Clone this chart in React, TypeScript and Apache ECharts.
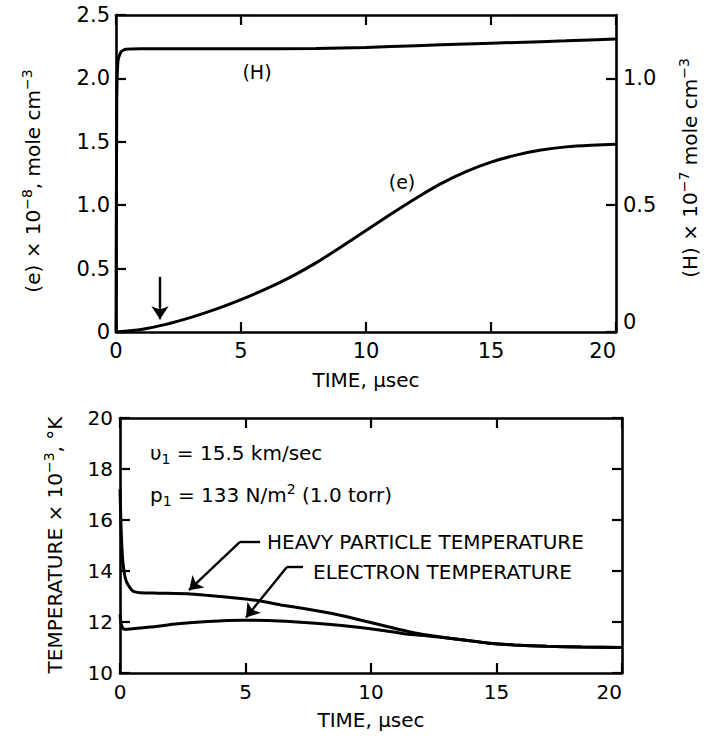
import React, { useEffect, useRef } from "react";
import * as echarts from "echarts";

// ---- data ----
const eTime = [0, 1, 2, 3, 4, 5, 6, 7, 8, 9, 10, 11, 12, 13, 14, 15, 16, 17, 18, 19, 20];
const eValue = [0, 0.02, 0.06, 0.115, 0.18, 0.255, 0.34, 0.435, 0.545, 0.67, 0.8, 0.93, 1.055, 1.17, 1.265, 1.34, 1.395, 1.435, 1.46, 1.473, 1.48];

const hTime = [0, 0.03, 0.08, 0.2, 0.4, 1, 5, 8, 10, 12, 14, 16, 18, 20];
const hValue = [0, 0.9, 1.07, 1.105, 1.115, 1.117, 1.117, 1.118, 1.122, 1.129, 1.136, 1.142, 1.148, 1.155];

const heavyTime = [0, 0.05, 0.12, 0.25, 0.5, 0.8, 1.5, 2.8, 4, 5, 5.6, 6.4, 7.5, 8.4, 9.4, 10.4, 11.7, 12.7, 13.7, 14.7, 15.7, 17, 18.4, 20];
const heavyValue = [17.2, 15.5, 14.3, 13.6, 13.22, 13.15, 13.13, 13.1, 13.0, 12.9, 12.82, 12.67, 12.5, 12.34, 12.12, 11.88, 11.58, 11.42, 11.29, 11.17, 11.1, 11.05, 11.02, 11.0];

const elecTime = [0, 0.05, 0.15, 0.3, 1.2, 2.3, 3.5, 4.9, 5.9, 6.9, 8.4, 9.4, 10.4, 11.4, 12.2, 12.7, 13.7, 14.7, 15.7, 17, 18.4, 20];
const elecValue = [12.3, 11.9, 11.72, 11.72, 11.8, 11.93, 12.02, 12.07, 12.06, 12.01, 11.9, 11.8, 11.68, 11.53, 11.46, 11.41, 11.29, 11.17, 11.1, 11.05, 11.02, 11.0];

const timeMin = 0;
const timeMax = 20;
const timeStep = 5;
const eAxis = { min: 0, max: 2.5, step: 0.5 };
const hAxis = { min: 0, max: 1.25, step: 0.5 };
const tAxis = { min: 10, max: 20, step: 2 };

const FONT = "DejaVu Sans";
const BLACK = "#000";

const zip = (xs: number[], ys: number[]) => xs.map((x, i) => [x, ys[i]]);

export default function App() {
  const ref = useRef<HTMLDivElement>(null);

  useEffect(() => {
    const chart = echarts.init(ref.current!, null, { renderer: "svg" });

    const axisLine = { show: true, onZero: false, lineStyle: { color: BLACK, width: 2.6 } };
    const axisTick = { show: true, inside: true, length: 10, lineStyle: { color: BLACK, width: 2.2 } };
    const noSplit = { show: false };

    const xBase = (grid: number, pos: "top" | "bottom", labels: boolean, fontSize: number, margin: number, nameGap: number) => ({
      type: "value",
      gridIndex: grid,
      position: pos,
      min: timeMin,
      max: timeMax,
      interval: timeStep,
      axisLine,
      axisTick,
      splitLine: noSplit,
      axisLabel: { show: labels, color: BLACK, fontFamily: FONT, fontSize, margin, alignMaxLabel: "right" },
      name: labels ? "TIME, \u03bcsec" : "",
      nameLocation: "middle",
      nameGap,
      nameTextStyle: { color: BLACK, fontFamily: FONT, fontSize: 20 },
    });

    const fmt1 = (v: number) => (v === 0 ? "0" : v.toFixed(1));

    const sup = { fontSize: 14, fontFamily: FONT, fill: BLACK, padding: [0, 0, 13, 0] };
    const sub = { fontSize: 14, fontFamily: FONT, fill: BLACK, padding: [12, 0, 0, 0] };
    const base = { fontSize: 20, fontFamily: FONT, fill: BLACK };

    const lineStyle = { color: BLACK, width: 3 };
    const SMOOTH = 0.2;

    const leader = (data: any[]) => ({
      silent: true,
      animation: false,
      symbol: ["none", "arrow"],
      symbolSize: 13,
      label: { show: false },
      emphasis: { disabled: true },
      lineStyle: { color: BLACK, width: 2.4, type: "solid" },
      data,
    });

    const option: any = {
      animation: false,
      backgroundColor: "#fff",
      grid: [
        { left: 116, top: 15, width: 500, height: 317 },
        { left: 120, top: 418, width: 502, height: 255 },
      ],
      xAxis: [
        xBase(0, "bottom", true, 21, 8, 38),
        xBase(0, "top", false, 21, 8, 0),
        xBase(1, "bottom", true, 20, 9, 37),
        xBase(1, "top", false, 20, 9, 0),
      ],
      yAxis: [
        {
          type: "value", gridIndex: 0, position: "left",
          min: eAxis.min, max: eAxis.max, interval: eAxis.step,
          axisLine, axisTick, splitLine: noSplit,
          axisLabel: { color: BLACK, fontFamily: FONT, fontSize: 21, margin: 6, formatter: fmt1 },
        },
        {
          type: "value", gridIndex: 0, position: "right",
          min: hAxis.min, max: hAxis.max, interval: hAxis.step,
          axisLine, axisTick, splitLine: noSplit,
          axisLabel: {
            color: BLACK, fontFamily: FONT, fontSize: 21, margin: 7, formatter: fmt1,
            showMaxLabel: false, verticalAlignMinLabel: "bottom",
          },
        },
        {
          type: "value", gridIndex: 1, position: "left",
          min: tAxis.min, max: tAxis.max, interval: tAxis.step,
          axisLine, axisTick, splitLine: noSplit,
          axisLabel: { color: BLACK, fontFamily: FONT, fontSize: 20, margin: 7 },
        },
        {
          type: "value", gridIndex: 1, position: "right",
          min: tAxis.min, max: tAxis.max, interval: tAxis.step,
          axisLine, axisTick, splitLine: noSplit,
          axisLabel: { show: false },
        },
      ],
      series: [
        {
          name: "(e)", type: "line", xAxisIndex: 0, yAxisIndex: 0,
          data: zip(eTime, eValue), showSymbol: false, symbol: "none",
          smooth: SMOOTH, lineStyle,
          markLine: leader([[{ coord: [1.76, 0.435] }, { coord: [1.76, 0.1] }]]),
        },
        {
          name: "(H)", type: "line", xAxisIndex: 0, yAxisIndex: 1,
          data: zip(hTime, hValue), showSymbol: false, symbol: "none",
          smooth: SMOOTH, lineStyle,
        },
        {
          name: "HEAVY PARTICLE TEMPERATURE", type: "line", xAxisIndex: 2, yAxisIndex: 2,
          data: zip(heavyTime, heavyValue), showSymbol: false, symbol: "none",
          smooth: SMOOTH, lineStyle,
          markLine: leader([
            [{ coord: [5.58, 15.14], symbol: "none" }, { coord: [4.78, 15.14], symbol: "none" }],
            [{ coord: [4.78, 15.14], symbol: "none" }, { coord: [2.75, 13.25], symbol: "arrow" }],
          ]),
        },
        {
          name: "ELECTRON TEMPERATURE", type: "line", xAxisIndex: 2, yAxisIndex: 2,
          data: zip(elecTime, elecValue), showSymbol: false, symbol: "none",
          smooth: SMOOTH, lineStyle,
          markLine: leader([
            [{ coord: [7.29, 14.16], symbol: "none" }, { coord: [6.65, 14.16], symbol: "none" }],
            [{ coord: [6.65, 14.16], symbol: "none" }, { coord: [5.02, 12.18], symbol: "arrow" }],
          ]),
        },
      ],
      graphic: [
        {
          type: "text", x: 33, y: 181, rotation: Math.PI / 2,
          style: {
            text: "(e) \u00d7 10{s|\u22128}, mole cm{s|\u22123}",
            align: "center", verticalAlign: "middle", ...base,
            rich: { s: sup },
          },
        },
        {
          type: "text", x: 690, y: 168, rotation: Math.PI / 2,
          style: {
            text: "(H) \u00d7 10{s|\u22127} mole cm{s|\u22123}",
            align: "center", verticalAlign: "middle", ...base,
            rich: { s: sup },
          },
        },
        {
          type: "text", x: 55, y: 545, rotation: Math.PI / 2,
          style: {
            text: "TEMPERATURE \u00d7 10{s|\u22123}, \u00b0K",
            align: "center", verticalAlign: "middle", ...base,
            rich: { s: sup },
          },
        },
        {
          type: "text", x: 257, y: 72,
          style: { text: "(H)", align: "center", verticalAlign: "middle", ...base, fontSize: 19 },
        },
        {
          type: "text", x: 402, y: 182,
          style: { text: "(e)", align: "center", verticalAlign: "middle", ...base, fontSize: 19 },
        },
        {
          type: "text", x: 150, y: 453,
          style: {
            text: "\u03c5{b|1} = 15.5 km/sec",
            align: "left", verticalAlign: "middle", ...base,
            rich: { b: sub },
          },
        },
        {
          type: "text", x: 150, y: 495,
          style: {
            text: "p{b|1} = 133 N/m{s|2} (1.0 torr)",
            align: "left", verticalAlign: "middle", ...base,
            rich: { b: sub, s: sup },
          },
        },
        {
          type: "text", x: 267, y: 542,
          style: { text: "HEAVY PARTICLE TEMPERATURE", align: "left", verticalAlign: "middle", ...base },
        },
        {
          type: "text", x: 313, y: 572,
          style: { text: "ELECTRON TEMPERATURE", align: "left", verticalAlign: "middle", ...base },
        },
      ],
    };

    chart.setOption(option);
    return () => chart.dispose();
  }, []);

  return (
    <div
      ref={ref}
      style={{ position: "absolute", left: 0, top: 0, width: 707, height: 738, background: "#fff" }}
    />
  );
}
